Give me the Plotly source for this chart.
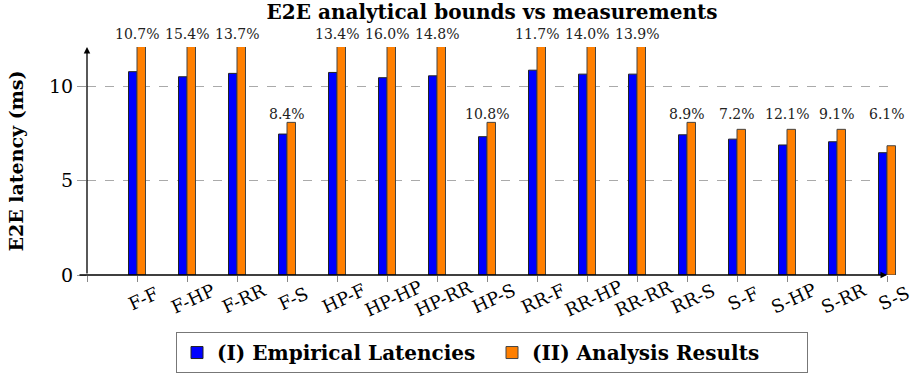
import plotly.graph_objects as go

categories = ["F-F", "F-HP", "F-RR", "F-S", "HP-F", "HP-HP", "HP-RR", "HP-S",
              "RR-F", "RR-HP", "RR-RR", "RR-S", "S-F", "S-HP", "S-RR", "S-S"]
empirical = [10.79, 10.52, 10.70, 7.48, 10.75, 10.47, 10.57, 7.34,
             10.87, 10.66, 10.66, 7.44, 7.21, 6.90, 7.07, 6.49]
analysis = [12.2, 12.2, 12.2, 8.10, 12.2, 12.2, 12.2, 8.10,
            12.2, 12.2, 12.2, 8.10, 7.73, 7.73, 7.73, 6.86]
pct_labels = ["10.7%", "15.4%", "13.7%", "8.4%", "13.4%", "16.0%", "14.8%", "10.8%",
              "11.7%", "14.0%", "13.9%", "8.9%", "7.2%", "12.1%", "9.1%", "6.1%"]
y_ticks = [0, 5, 10]

YMAX = 12.1
XMAX = 16.2
positions = list(range(1, len(categories) + 1))
SERIF = "DejaVu Serif"
BW = 0.17

fig = go.Figure()
fig.add_trace(go.Bar(
    x=positions, y=empirical, width=BW, offset=-BW,
    marker=dict(color="#0000FF", line=dict(color="#222222", width=1)),
    name="(I) Empirical Latencies",
))
fig.add_trace(go.Bar(
    x=positions, y=analysis, width=BW, offset=0,
    marker=dict(color="#FF7F00", line=dict(color="#444444", width=1)),
    name="(II) Analysis Results",
))

annotations = []
row2 = max(v for v in analysis if v < YMAX)
for p, v, t in zip(positions, analysis, pct_labels):
    if v >= YMAX:
        ly, sh = YMAX, 13
    else:
        ly, sh = row2, 8
    annotations.append(dict(x=p, y=ly, xref="x", yref="y", text=t, showarrow=False,
                            yanchor="middle", yshift=sh,
                            font=dict(family=SERIF, size=14, color="#222")))
for p, c in zip(positions, categories):
    annotations.append(dict(x=p, y=0, xref="x", yref="y", text=c, showarrow=False,
                            textangle=-25, xanchor="center", yanchor="middle",
                            xshift=6, yshift=-23,
                            font=dict(family=SERIF, size=18, color="#000")))
# axis arrows
annotations.append(dict(x=16, y=0, ax=-0.18, ay=0, xref="x", yref="y", axref="x", ayref="y",
                        text="", showarrow=True, arrowhead=2, arrowsize=1, arrowwidth=1.3,
                        arrowcolor="#000"))
annotations.append(dict(x=0, y=YMAX, ax=0, ay=0, xref="x", yref="y", axref="x", ayref="y",
                        text="", showarrow=True, arrowhead=2, arrowsize=1, arrowwidth=1.3,
                        arrowcolor="#000"))

fig.update_layout(
    width=914, height=380,
    margin=dict(l=87, r=914 - 87 - int(50 * XMAX), t=47, b=105, autoexpand=False),
    paper_bgcolor="white", plot_bgcolor="white",
    barmode="overlay",
    title=dict(text="<b>E2E analytical bounds vs measurements</b>", xref="paper", x=0.5,
               xanchor="center", yref="container", y=0.968, yanchor="middle",
               font=dict(family=SERIF, size=20, color="#000")),
    xaxis=dict(range=[0, XMAX], tickvals=list(range(0, 17)), ticktext=[""] * 17,
               ticks="outside", ticklen=6, tickcolor="#888", showgrid=False,
               showline=False, zeroline=False, fixedrange=True),
    yaxis=dict(range=[0, YMAX], tickvals=y_ticks, ticks="outside", ticklen=9,
               tickcolor="#999", showgrid=True, gridcolor="#aaaaaa", griddash="dash",
               gridwidth=1, showline=False, zeroline=False,
               tickfont=dict(family=SERIF, size=19, color="#000"),
               title=dict(text="<b>E2E latency (ms)</b>", standoff=20,
                          font=dict(family=SERIF, size=19, color="#000"))),
    legend=dict(orientation="h", x=0.5, xanchor="center", y=-0.43, yanchor="bottom",
                bordercolor="#777", borderwidth=1, itemwidth=30, entrywidth=270,
                font=dict(family=SERIF, size=20, color="#000", weight="bold")),
    annotations=annotations,
    showlegend=True,
)

fig.write_html("out.html")
